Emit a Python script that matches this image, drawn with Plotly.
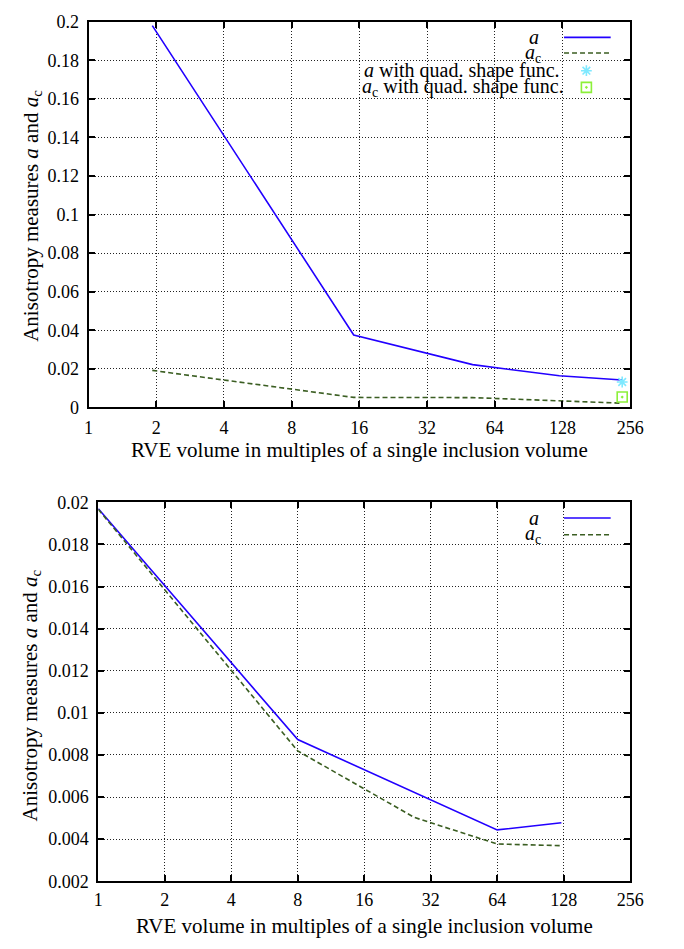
import numpy as np
import plotly.graph_objects as go

# ---------------- data ----------------
X_TICKS = [1, 2, 4, 8, 16, 32, 64, 128, 256]

TOP_X = [1.92, 15.1, 51, 124, 236]
TOP_A = [0.198, 0.0376, 0.0222, 0.0164, 0.0142]
TOP_AC = [0.0192, 0.0052, 0.0051, 0.0036, 0.0022]
QUAD_X = [236]
QUAD_A = [0.0132]
QUAD_AC = [0.0054]
TOP_Y_TICKS = [0, 0.02, 0.04, 0.06, 0.08, 0.1, 0.12, 0.14, 0.16, 0.18, 0.2]
TOP_Y_LABELS = ["0", "0.02", "0.04", "0.06", "0.08", "0.1", "0.12", "0.14", "0.16", "0.18", "0.2"]

BOT_X_A = [1, 8, 64, 125]
BOT_A = [0.0197, 0.00873, 0.00444, 0.00478]
BOT_X_AC = [1, 8, 27, 64, 125]
BOT_AC = [0.01967, 0.00819, 0.00503, 0.00377, 0.00369]
BOT_Y_TICKS = [0.002, 0.004, 0.006, 0.008, 0.01, 0.012, 0.014, 0.016, 0.018, 0.02]
BOT_Y_LABELS = ["0.002", "0.004", "0.006", "0.008", "0.01", "0.012", "0.014", "0.016", "0.018", "0.02"]

X_TITLE = "RVE volume in multiples of a single inclusion volume"
Y_TITLE = "Anisotropy measures <i>a</i> and <i>a</i><sub>c</sub>"
LEG_TOP = ["<i>a</i>", "<i>a</i><sub>c</sub>",
           "<i>a</i> with quad. shape func.", "<i>a</i><sub>c</sub> with quad. shape func."]
LEG_BOT = ["<i>a</i>", "<i>a</i><sub>c</sub>"]

# ---------------- styles ----------------
W, H = 684, 949
FONT = "Liberation Serif"
BLUE = "#2200ff"
GREEN = "#3b5e22"
CYAN = "#7fe9ff"
LIME = "#8cf03a"
DASH = "5px,3px"
CLEAR = "rgba(0,0,0,0)"


def px_x(p):
    return p / W


def px_y(p):
    return 1 - p / H


common_axis = dict(
    showgrid=True, gridcolor="#222222", griddash="1px,2px", gridwidth=1,
    showline=True, linecolor="black", linewidth=2, mirror="allticks",
    ticks="inside", ticklen=6, tickwidth=1.5, tickcolor="black",
    zeroline=False, tickfont=dict(family=FONT, size=18, color="black"),
)

STAR = dict(symbol="asterisk-open", size=9, color=CYAN, line=dict(color=CYAN, width=1.6))
SQUARE = dict(symbol="square-open-dot", size=10, color=LIME, line=dict(color=LIME, width=1.6))

fig = go.Figure()

# top panel
fig.add_trace(go.Scatter(x=TOP_X, y=TOP_A, mode="lines", line=dict(color=BLUE, width=1.6),
                         xaxis="x", yaxis="y", showlegend=False))
fig.add_trace(go.Scatter(x=TOP_X, y=TOP_AC, mode="lines", line=dict(color=GREEN, width=1.6, dash=DASH),
                         xaxis="x", yaxis="y", showlegend=False))
fig.add_trace(go.Scatter(x=QUAD_X, y=QUAD_A, mode="markers", marker=STAR,
                         xaxis="x", yaxis="y", showlegend=False))
fig.add_trace(go.Scatter(x=QUAD_X, y=QUAD_AC, mode="markers", marker=SQUARE,
                         xaxis="x", yaxis="y", showlegend=False))

# bottom panel
fig.add_trace(go.Scatter(x=BOT_X_A, y=BOT_A, mode="lines", line=dict(color=BLUE, width=1.6),
                         xaxis="x2", yaxis="y2", showlegend=False))
fig.add_trace(go.Scatter(x=BOT_X_AC, y=BOT_AC, mode="lines", line=dict(color=GREEN, width=1.6, dash=DASH),
                         xaxis="x2", yaxis="y2", showlegend=False))

# legend key samples on an invisible pixel-space overlay axis
LEG_X0, LEG_X1, LEG_XM = 575, 623, 598
TOP_ROWS = [28, 44, 62, 79]
BOT_ROWS = [519, 536]
for rows in (TOP_ROWS, BOT_ROWS):
    fig.add_trace(go.Scatter(x=[LEG_X0, LEG_X1], y=[rows[0], rows[0]], mode="lines",
                             line=dict(color=BLUE, width=1.6), xaxis="x3", yaxis="y3", showlegend=False))
    fig.add_trace(go.Scatter(x=[LEG_X0, LEG_X1], y=[rows[1], rows[1]], mode="lines",
                             line=dict(color=GREEN, width=1.6, dash=DASH), xaxis="x3", yaxis="y3", showlegend=False))
fig.add_trace(go.Scatter(x=[LEG_XM], y=[TOP_ROWS[2]], mode="markers", marker=STAR,
                         xaxis="x3", yaxis="y3", showlegend=False))
fig.add_trace(go.Scatter(x=[LEG_XM], y=[TOP_ROWS[3]], mode="markers", marker=SQUARE,
                         xaxis="x3", yaxis="y3", showlegend=False))

xr = [0, np.log10(256)]
fig.update_layout(
    width=W, height=H, margin=dict(l=0, r=0, t=0, b=0),
    paper_bgcolor="white", plot_bgcolor=CLEAR,
    xaxis=dict(type="log", range=xr, tickvals=X_TICKS, ticktext=[str(v) for v in X_TICKS],
               domain=[px_x(86), px_x(643)], anchor="y", ticklabelstandoff=3, **common_axis),
    yaxis=dict(range=[0, 0.2], tickvals=TOP_Y_TICKS, ticktext=TOP_Y_LABELS,
               domain=[px_y(406), px_y(12)], anchor="x", ticklabelstandoff=4, **common_axis),
    xaxis2=dict(type="log", range=xr, tickvals=X_TICKS, ticktext=[str(v) for v in X_TICKS],
                domain=[px_x(96), px_x(643)], anchor="y2", ticklabelstandoff=1, **common_axis),
    yaxis2=dict(range=[0.002, 0.02], tickvals=BOT_Y_TICKS, ticktext=BOT_Y_LABELS,
                domain=[px_y(890), px_y(503)], anchor="x2", ticklabelstandoff=4, **common_axis),
    xaxis3=dict(range=[0, W], domain=[0, 1], visible=False, anchor="y3", fixedrange=True),
    yaxis3=dict(range=[H, 0], domain=[0, 1], visible=False, anchor="x3", fixedrange=True),
)

ann = []
tf = dict(family=FONT, size=21, color="black")
# axis titles
ann.append(dict(text=X_TITLE, x=px_x(365), y=px_y(449), xref="paper", yref="paper",
                showarrow=False, xanchor="center", yanchor="middle", font=tf))
ann.append(dict(text=X_TITLE, x=px_x(370), y=px_y(936), xref="paper", yref="paper",
                showarrow=False, xanchor="center", yanchor="middle", font=tf))
ann.append(dict(text=Y_TITLE, x=px_x(27), y=px_y(210), xref="paper", yref="paper", textangle=-90,
                showarrow=False, xanchor="center", yanchor="middle", font=tf))
ann.append(dict(text=Y_TITLE, x=px_x(27), y=px_y(700), xref="paper", yref="paper", textangle=-90,
                showarrow=False, xanchor="center", yanchor="middle", font=tf))
# legend texts
lf = dict(family=FONT, size=20, color="black")
TOP_TEXT_RIGHT = [551, 553, 573, 577]
for t, yy, xx in zip(LEG_TOP, TOP_ROWS, TOP_TEXT_RIGHT):
    ann.append(dict(text=t, x=px_x(xx), y=px_y(yy), xref="paper", yref="paper",
                    showarrow=False, xanchor="right", yanchor="middle", font=lf))
for t, yy, xx in zip(LEG_BOT, BOT_ROWS, TOP_TEXT_RIGHT[:2]):
    ann.append(dict(text=t, x=px_x(xx), y=px_y(yy), xref="paper", yref="paper",
                    showarrow=False, xanchor="right", yanchor="middle", font=lf))
fig.update_layout(annotations=ann)

fig.write_html("out.html")
